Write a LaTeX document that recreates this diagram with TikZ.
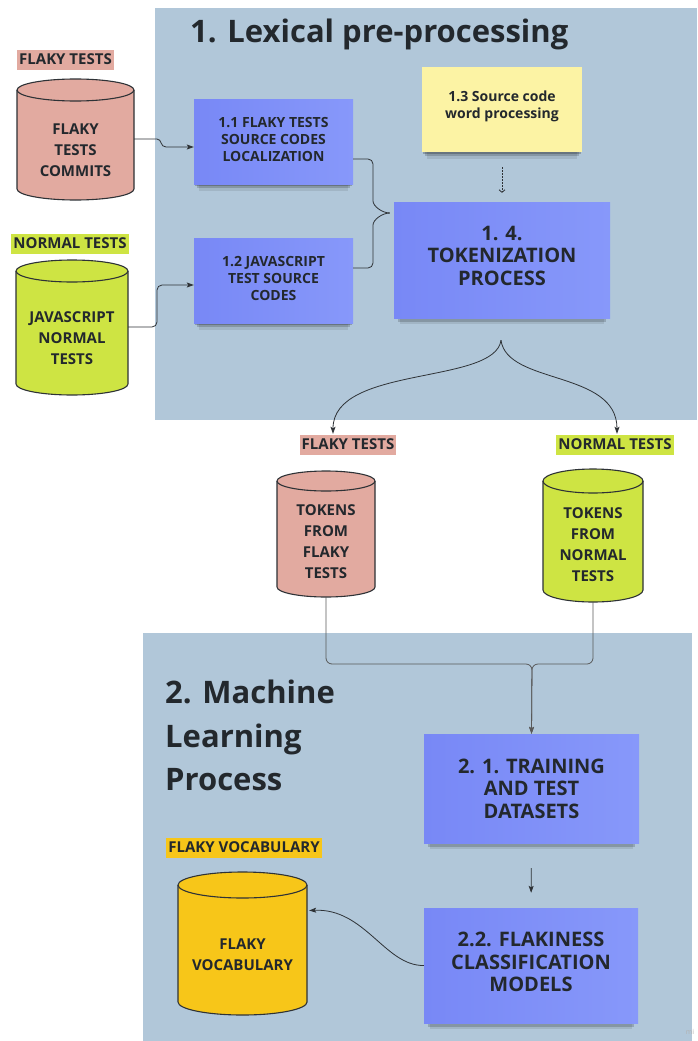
\documentclass[tikz,border=0pt]{standalone}
\usepackage{fontspec}
\setmainfont{Open Sans}
\usetikzlibrary{arrows.meta,shadows,calc}
\definecolor{panel}{HTML}{B1C7D9}
\definecolor{pinkc}{HTML}{E2AAA0}
\definecolor{greenc}{HTML}{CEE443}
\definecolor{orangec}{HTML}{F7C619}
\definecolor{blueL}{HTML}{7888F6}
\definecolor{blueR}{HTML}{8798FA}
\definecolor{sticky}{HTML}{FCF3A4}
\definecolor{txt}{HTML}{23282D}
\definecolor{linec}{HTML}{2E3236}
\newcommand\drumshape[6]{%
  \fill[#6] ({#1-#4},#2) -- ({#1-#4},#3) arc[start angle=180,end angle=0,x radius=#4,y radius=#5] -- ({#1+#4},#2) -- cycle;
  \fill[#6] (#1,#2) ellipse[x radius=#4,y radius=#5];
  \draw[drumline] ({#1-#4},#2) -- ({#1-#4},#3) arc[start angle=180,end angle=0,x radius=#4,y radius=#5] -- ({#1+#4},#2);
  \draw[drumline] (#1,#2) ellipse[x radius=#4,y radius=#5];
}
% extra depth on the last line lifts the text inside its box
\newcommand\txtdrop[1]{\rule[-#1]{0pt}{#1}}
\tikzset{
  drumline/.style={draw=linec, line width=1.1pt},
  softshadow/.style={
    drop shadow={shadow xshift=0pt, shadow yshift=-2pt, shadow scale=0.99, opacity=0.22, fill=black},
    drop shadow={shadow xshift=0pt, shadow yshift=-6pt, shadow scale=0.965, opacity=0.17, fill=black},
    drop shadow={shadow xshift=0pt, shadow yshift=-10pt, shadow scale=0.94, opacity=0.09, fill=black}},
  bluebox/.style={rectangle, left color=blueL, right color=blueR, align=center, text=txt, softshadow},
  smallfont/.style={font=\bfseries\fontsize{14}{17}\selectfont},
  bigfont/.style={font=\bfseries\fontsize{20}{22.5}\selectfont},
  drumtext/.style={align=center, text=txt, font=\bfseries\fontsize{15}{21}\selectfont, inner sep=0pt},
  tag/.style={text=txt, font=\bfseries\fontsize{15}{18}\selectfont, inner xsep=2pt, inner ysep=3pt, text height=11pt, text depth=3pt},
  title/.style={text=txt, font=\bfseries\fontsize{31}{43.5}\selectfont, inner sep=0pt, align=left},
  conn/.style={draw=linec, line width=0.8pt},
  tip/.style={-{Stealth[length=7pt,width=5pt,inset=1.5pt]}},
}
\begin{document}
\begin{tikzpicture}[x=1pt,y=-1pt]
\useasboundingbox (0,0) rectangle (697,1041);
\fill[white] (0,0) rectangle (697,1041);
% panels
\fill[panel] (155,8) rectangle (697,420);
\fill[panel] (143,633) rectangle (692,1041);
% titles
\node[title, anchor=base west] (t1) at (190,43) {1. Lexical pre-processing};
\node[title, anchor=north west] (t2) at (165,680) {2. Machine\\Learning\\Process};
% tags
\node[tag, fill=pinkc] (lab1) at (65.5,60) {FLAKY TESTS};
\node[tag, fill=greenc] (lab2) at (70,244) {NORMAL TESTS};
\node[tag, fill=pinkc] (lab3) at (348,445) {FLAKY TESTS};
\node[tag, fill=greenc] (lab4) at (615,445) {NORMAL TESTS};
\node[tag, fill=orangec] (lab5) at (244,848) {FLAKY VOCABULARY};
% cylinders
\drumshape{75.5}{90}{189}{58.5}{11}{pinkc}
\node[drumtext, minimum width=117pt] (c1) at (75.5,150) {FLAKY\\TESTS\\COMMITS};
\drumshape{72}{271}{384}{56}{11}{greenc}
\node[drumtext, minimum width=112pt] (c2) at (72,338) {JAVASCRIPT\\NORMAL\\TESTS};
\drumshape{326}{481}{587}{49}{10}{pinkc}
\node[drumtext, minimum width=98pt, minimum height=110pt] (ct1) at (326,542) {TOKENS\\FROM\\FLAKY\\TESTS};
\drumshape{593}{481}{590}{50}{12}{greenc}
\node[drumtext, minimum width=100pt, minimum height=114pt] (ct2) at (593,545) {TOKENS\\FROM\\NORMAL\\TESTS};
\drumshape{242.5}{885}{1002}{64.5}{13}{orangec}
\node[drumtext, minimum width=129pt] (cv) at (242.5,954.5) {FLAKY\\VOCABULARY};
% boxes
\node[bluebox, smallfont, minimum width=159pt, minimum height=85pt] (b11) at (273.5,141.5) {1.1 FLAKY TESTS\\SOURCE CODES\\LOCALIZATION\txtdrop{5pt}};
\node[bluebox, smallfont, minimum width=159pt, minimum height=85pt] (b12) at (273.5,280.5) {1.2 JAVASCRIPT\\TEST SOURCE\\CODES\txtdrop{5pt}};
\node[rectangle, fill=sticky, smallfont, text=txt, align=center, minimum width=160pt, minimum height=85pt, softshadow] (b13) at (502,109.5) {1.3 Source code\\word processing\txtdrop{9.5pt}};
\node[bluebox, bigfont, minimum width=216pt, minimum height=116pt] (b14) at (502,260) {1. 4.\\TOKENIZATION\\PROCESS\txtdrop{9pt}};
\node[bluebox, bigfont, minimum width=215pt, minimum height=109pt] (b21) at (531.5,788.5) {2. 1. TRAINING\\AND TEST\\DATASETS};
\node[bluebox, bigfont, minimum width=214pt, minimum height=115pt] (b22) at (531,965.5) {2.2. FLAKINESS\\CLASSIFICATION\\MODELS\txtdrop{7pt}};
% watermark
\node[text=gray!60, font=\fontsize{7}{8}\selectfont, inner sep=1pt] (mi) at (690,1032) {mi};
% connectors
\draw[conn, tip] ($(c1.east)+(0,-11)$) -- (157,139) .. controls (162,139) and (160,147) .. (166,147) -- ($(b11.west)+(0,5.5)$);
\draw[conn, tip, rounded corners=5pt] ($(c2.east)+(0,-11)$) -- (157,327) -- (157,285) -- ($(b12.west)+(0,4.5)$);
\coordinate (bt) at ($(b14.west)+(-4,-47)$);
\draw[conn, rounded corners=5pt] ($(b11.east)+(0,17.5)$) -- (373,159) -- (373,196) .. controls (373,206) and (382,213) .. (bt);
\draw[conn, rounded corners=5pt] ($(b12.east)+(0,-12.5)$) -- (373,268) -- (373,230) .. controls (373,220) and (382,213) .. (bt);
\draw[conn, dash pattern=on 1.5pt off 1.5pt, -{Straight Barb[length=2.5pt,width=6pt]}, shorten <=15pt, shorten >=9pt] (b13.south) -- (b14.north);
\coordinate (fork) at ($(b14.south)+(-1,22)$);
\draw[conn, tip] (fork) .. controls (495,385) and (333,365) .. ($(lab3.north)+(-15,-1)$);
\draw[conn, tip] (fork) .. controls (507,385) and (617,370) .. ($(lab4.north)+(2,-1)$);
\draw[conn, draw=black!65, tip, rounded corners=6pt] (ct1.south) -- (326,664) -- (532,664) -- (b21.north);
\draw[conn, draw=black!65, tip, rounded corners=6pt] (ct2.south) -- (593,664) -- (532,664) -- (b21.north);
\draw[conn, tip, shorten <=25pt, shorten >=15pt] (b21.south) -- (b22.north);
\draw[conn, tip] (b22.west) .. controls (385,966) and (365,908) .. ($(cv.east)+(2,-44)$);
\end{tikzpicture}
\end{document}
